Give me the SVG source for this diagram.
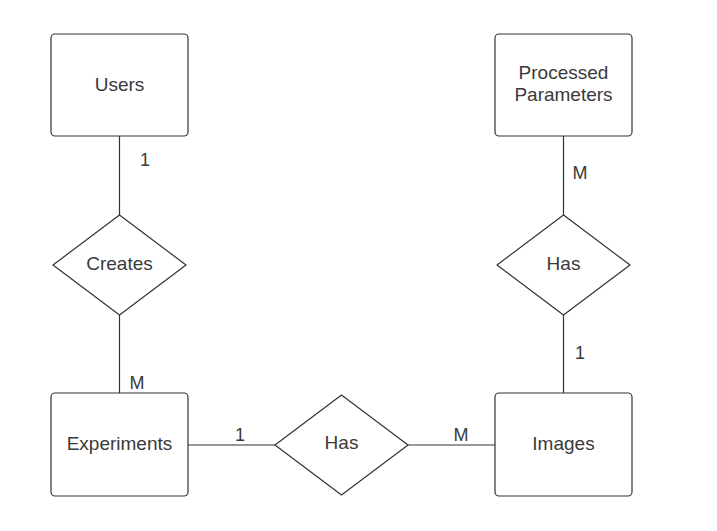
<svg xmlns="http://www.w3.org/2000/svg" width="717" height="531" viewBox="0 0 717 531">
<style>
.box{fill:#fff;stroke:#333;stroke-width:1.2}
.t{font-family:"Liberation Sans",Arial,sans-serif;font-size:19px;fill:#3a3a3a;text-anchor:middle;dominant-baseline:central}
.l{font-family:"Liberation Sans",Arial,sans-serif;font-size:18px;fill:#3a3a3a;text-anchor:middle;dominant-baseline:central}
.c{stroke:#333;stroke-width:1.2;fill:none}
</style>
<rect width="717" height="531" fill="#fff"/>
<g id="connectors">
<line class="c" x1="119.5" y1="136" x2="119.5" y2="215"/>
<line class="c" x1="119.5" y1="315" x2="119.5" y2="393"/>
<line class="c" x1="188" y1="445" x2="275" y2="445"/>
<line class="c" x1="408" y1="445" x2="495" y2="445"/>
<line class="c" x1="563.5" y1="136" x2="563.5" y2="215"/>
<line class="c" x1="563.5" y1="315" x2="563.5" y2="393"/>
<text class="l" x="145" y="160">1</text>
<text class="l" x="137" y="383">M</text>
<text class="l" x="240" y="435">1</text>
<text class="l" x="461" y="435">M</text>
<text class="l" x="580" y="173">M</text>
<text class="l" x="580" y="353">1</text>
</g>
<g id="users"><rect class="box" x="51" y="34" width="137" height="102" rx="4"/><text class="t" x="119.5" y="84">Users</text></g>
<g id="creates"><path class="box" d="M119.5 215 L186 265 L119.5 315 L53 265 Z" stroke-linejoin="round"/><text class="t" x="119.5" y="263">Creates</text></g>
<g id="experiments"><rect class="box" x="51" y="393" width="137" height="103" rx="4"/><text class="t" x="119.5" y="443">Experiments</text></g>
<g id="has-bottom"><path class="box" d="M341.5 395 L408 445 L341.5 495 L275 445 Z" stroke-linejoin="round"/><text class="t" x="341.5" y="442">Has</text></g>
<g id="images"><rect class="box" x="495" y="393" width="137" height="103" rx="4"/><text class="t" x="563.5" y="443">Images</text></g>
<g id="has-right"><path class="box" d="M563.5 215 L630 265 L563.5 315 L497 265 Z" stroke-linejoin="round"/><text class="t" x="563.5" y="263">Has</text></g>
<g id="processed"><rect class="box" x="495" y="34" width="137" height="102" rx="4"/><text class="t" x="563.5" y="72">Processed</text><text class="t" x="563.5" y="94">Parameters</text></g>
</svg>
